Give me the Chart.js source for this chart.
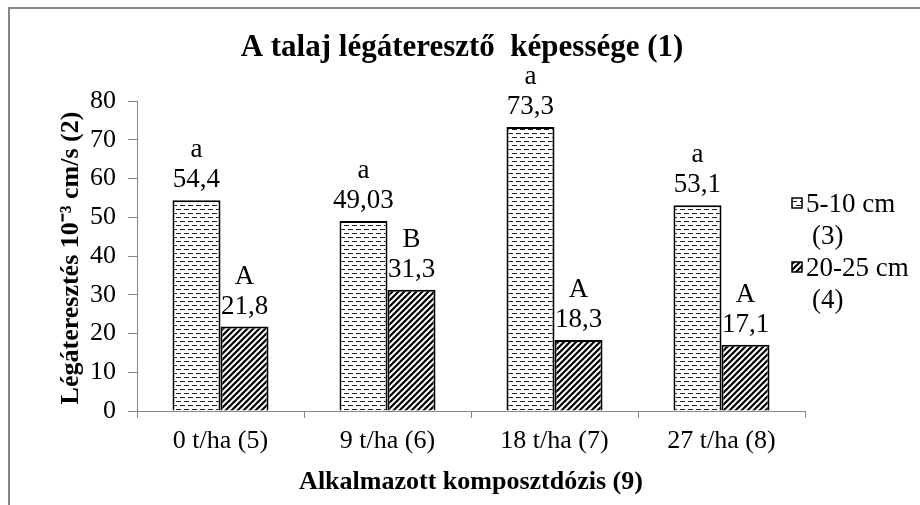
<!DOCTYPE html>
<html>
<head>
<meta charset="utf-8">
<script src="https://cdn.jsdelivr.net/npm/chart.js@4"></script>
<style>
  html, body { margin: 0; padding: 0; background: #fff; overflow: hidden; }
  #wrap { width: 920px; height: 505px; position: relative; }
</style>
</head>
<body>
<div id="wrap"><canvas id="chart" width="920" height="505"></canvas></div>
<script>
const categories = ['0 t/ha (5)', '9 t/ha (6)', '18 t/ha (7)', '27 t/ha (8)'];
const seriesNames = [['5-10 cm', '(3)'], ['20-25 cm', '(4)']];
const shallow = [54.4, 49.03, 73.3, 53.1];
const deep = [21.8, 31.3, 18.3, 17.1];
const shallowText = ['54,4', '49,03', '73,3', '53,1'];
const deepText = ['21,8', '31,3', '18,3', '17,1'];
const shallowLetters = ['a', 'a', 'a', 'a'];
const deepLetters = ['A', 'B', 'A', 'A'];
const yTicks = [0, 10, 20, 30, 40, 50, 60, 70, 80];

const SERIF = '"Liberation Serif", "Times New Roman", serif';
const AXIS = '#868686';

function dashPattern() {
  const c = document.createElement('canvas');
  c.width = 8; c.height = 8;
  const g = c.getContext('2d');
  g.fillStyle = '#fff'; g.fillRect(0, 0, 8, 8);
  g.fillStyle = '#222';
  g.fillRect(0, 1, 5, 1);
  g.fillRect(4, 5, 5, 1);
  g.fillRect(0, 5, 1, 1);
  return g.createPattern(c, 'repeat');
}
function hatchPattern() {
  const c = document.createElement('canvas');
  c.width = 6; c.height = 6;
  const g = c.getContext('2d');
  g.fillStyle = '#fff'; g.fillRect(0, 0, 6, 6);
  g.strokeStyle = '#000'; g.lineWidth = 2.2;
  g.beginPath();
  g.moveTo(-1, 7); g.lineTo(7, -1);
  g.moveTo(-4, 4); g.lineTo(4, -4);
  g.moveTo(2, 10); g.lineTo(10, 2);
  g.stroke();
  return g.createPattern(c, 'repeat');
}
const fills = [dashPattern(), hatchPattern()];

// outer frame, titles, value labels and legend
const decor = {
  id: 'decor',
  beforeDraw(chart) {
    const ctx = chart.ctx;
    ctx.save();
    ctx.fillStyle = '#fff';
    ctx.fillRect(0, 0, chart.width, chart.height);
    ctx.fillStyle = AXIS;
    ctx.fillRect(8, 7, chart.width, 2);
    ctx.fillRect(8, 7, 2, chart.height);
    ctx.restore();
  },
  afterDatasetsDraw(chart) {
    const ctx = chart.ctx;
    ctx.save();
    ctx.fillStyle = '#000';
    ctx.textAlign = 'center';
    ctx.textBaseline = 'alphabetic';
    ctx.font = '27px ' + SERIF;
    const texts = [shallowText, deepText];
    const letters = [shallowLetters, deepLetters];
    chart.data.datasets.forEach((ds, di) => {
      chart.getDatasetMeta(di).data.forEach((bar, i) => {
        ctx.fillText(texts[di][i], bar.x, bar.y - 13);
        ctx.fillText(letters[di][i], bar.x, bar.y - 43);
      });
    });

    // titles
    ctx.font = 'bold 31px ' + SERIF;
    ctx.fillText('A talaj légáteresztő  képessége (1)', 462, 56);
    ctx.font = 'bold 26px ' + SERIF;
    ctx.fillText('Alkalmazott komposztdózis (9)', 471, 489);
    ctx.save();
    ctx.translate(78, 258);
    ctx.rotate(-Math.PI / 2);
    ctx.fillText('Légáteresztés 10⁻³ cm/s (2)', 0, 0);
    ctx.restore();

    // legend
    ctx.textAlign = 'left';
    ctx.font = '27px ' + SERIF;
    const rows = [203, 267];
    seriesNames.forEach((lines, k) => {
      const y = rows[k];
      ctx.fillStyle = fills[k];
      ctx.fillRect(792, y - 5, 10, 10);
      ctx.strokeStyle = '#000';
      ctx.lineWidth = 1.5;
      ctx.strokeRect(792, y - 5, 10, 10);
      ctx.fillStyle = '#000';
      ctx.fillText(lines[0], 806, y + 9);
      ctx.fillText(lines[1], 812, y + 41);
    });
    ctx.restore();
  }
};

new Chart(document.getElementById('chart'), {
  type: 'bar',
  data: {
    labels: categories,
    datasets: [
      { label: seriesNames[0].join(' '), data: shallow, backgroundColor: fills[0], borderColor: '#000', borderWidth: 2 },
      { label: seriesNames[1].join(' '), data: deep, backgroundColor: fills[1], borderColor: '#000', borderWidth: 2 }
    ]
  },
  options: {
    responsive: false,
    animation: false,
    events: [],
    layout: { padding: { left: 0, top: 101, right: 115, bottom: 0 } },
    datasets: { bar: { categoryPercentage: 0.575, barPercentage: 1 } },
    plugins: { legend: { display: false }, tooltip: { enabled: false } },
    scales: {
      x: {
        offset: true,
        grid: { offset: true, drawOnChartArea: false, color: AXIS, tickLength: 7, tickColor: AXIS },
        border: { color: AXIS, width: 1 },
        ticks: { color: '#000', font: { family: SERIF, size: 26 }, padding: 8, maxRotation: 0 },
        afterFit(s) { s.height = 94; }
      },
      y: {
        min: 0, max: 80,
        afterBuildTicks(s) { s.ticks = yTicks.map(v => ({ value: v })); },
        grid: { drawOnChartArea: false, color: AXIS, tickLength: 9, tickColor: AXIS },
        border: { color: AXIS, width: 1 },
        ticks: { color: '#000', font: { family: SERIF, size: 26 }, padding: 12 },
        afterFit(s) { s.width = 137; }
      }
    }
  },
  plugins: [decor]
});
</script>
</body>
</html>
